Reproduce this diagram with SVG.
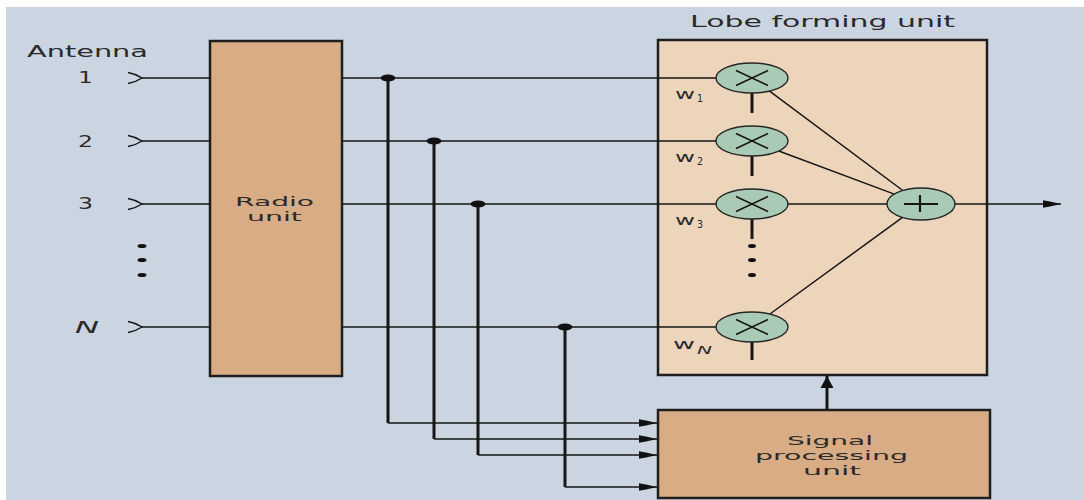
<svg xmlns="http://www.w3.org/2000/svg" width="1084" height="500" viewBox="0 0 1084 500">
<defs>
<style>
.t{font-family:"DejaVu Sans","Liberation Sans",sans-serif;fill:#2a2a2a;}
.ln{stroke:#161616;stroke-width:1.5;fill:none;}
.fd{stroke:#161616;stroke-width:3;fill:none;}
.box{stroke:#1e1e1e;stroke-width:2.5;}
.op{fill:#a9cbb6;stroke:#262626;stroke-width:1.4;}
.dot{fill:#111;}
</style>
<marker id="ah" viewBox="0 0 18 8" refX="18" refY="4" markerWidth="18" markerHeight="8" markerUnits="userSpaceOnUse" orient="auto">
<path d="M0,0.3 L7,1.5 L18,4 L7,6.5 L0,7.7 Z" fill="#111"/>
</marker>
<marker id="au" viewBox="0 0 12 14" refX="12" refY="7" markerWidth="12" markerHeight="14" markerUnits="userSpaceOnUse" orient="auto">
<path d="M0,0.5 L12,7 L0,13.5 Z" fill="#111"/>
</marker>
</defs>
<rect x="0" y="0" width="1084" height="500" fill="#ffffff"/>
<rect x="6" y="7" width="1078" height="493" fill="#cbd5e1"/>

<g id="antennas">
<text class="t" x="27" y="57" font-size="16" textLength="121" lengthAdjust="spacingAndGlyphs">Antenna</text>
<text class="t" x="78" y="83" font-size="16" textLength="15" lengthAdjust="spacingAndGlyphs">1</text>
<text class="t" x="78" y="147" font-size="16" textLength="15" lengthAdjust="spacingAndGlyphs">2</text>
<text class="t" x="78" y="209" font-size="16" textLength="15" lengthAdjust="spacingAndGlyphs">3</text>
<text class="t" x="75" y="333" font-size="16" font-style="italic" textLength="24" lengthAdjust="spacingAndGlyphs">N</text>
<path class="ln" stroke-width="1.8" d="M128,72.5 Q136,74 142,78 Q136,82 128,83.5 M128,135.5 Q136,137 142,141 Q136,145 128,146.5 M128,198.5 Q136,200 142,204 Q136,208 128,209.5 M128,321.5 Q136,323 142,327 Q136,331 128,332.5"/>
<ellipse class="dot" cx="142" cy="246" rx="4.5" ry="2"/>
<ellipse class="dot" cx="142" cy="260" rx="4.5" ry="2"/>
<ellipse class="dot" cx="142" cy="275" rx="4.5" ry="2"/>
</g>

<g id="radio-unit">
<rect class="box" x="210" y="41" width="132" height="335" fill="#d8ac85"/>
<text class="t" x="235" y="206" font-size="13" textLength="79" lengthAdjust="spacingAndGlyphs">Radio</text>
<text class="t" x="247" y="221" font-size="13" textLength="55" lengthAdjust="spacingAndGlyphs">unit</text>
</g>

<g id="lobe-forming-unit">
<text class="t" x="690" y="27" font-size="15" textLength="265" lengthAdjust="spacingAndGlyphs">Lobe forming unit</text>
<rect class="box" x="658" y="40" width="329" height="335" fill="#edd5bb"/>
</g>

<g id="signal-processing-unit">
<rect class="box" x="658" y="410" width="332" height="88" fill="#d8ac85"/>
<text class="t" x="787" y="445" font-size="13" textLength="86" lengthAdjust="spacingAndGlyphs">Signal</text>
<text class="t" x="755" y="460" font-size="13" textLength="153" lengthAdjust="spacingAndGlyphs">processing</text>
<text class="t" x="803" y="475" font-size="13" textLength="58" lengthAdjust="spacingAndGlyphs">unit</text>
</g>

<g id="connectors">
<path class="ln" d="M142,78 H210 M142,141 H210 M142,204 H210 M142,327 H210"/>
<path class="ln" d="M342,78 H716 M342,141 H716 M342,204 H716 M342,327 H716"/>
<path class="fd" d="M388,78 V423 M434,141 V439 M478,204 V455 M565,327 V487"/>
<path class="ln" d="M388,423 H657" marker-end="url(#ah)"/>
<path class="ln" d="M434,439 H657" marker-end="url(#ah)"/>
<path class="ln" d="M478,455 H657" marker-end="url(#ah)"/>
<path class="ln" d="M565,487 H657" marker-end="url(#ah)"/>
<ellipse class="dot" cx="388" cy="78" rx="7.5" ry="3.5"/>
<ellipse class="dot" cx="434" cy="141" rx="7.5" ry="3.5"/>
<ellipse class="dot" cx="478" cy="204" rx="7.5" ry="3.5"/>
<ellipse class="dot" cx="565" cy="327" rx="7.5" ry="3.5"/>
<path class="fd" d="M752,93 V113 M752,156 V176 M752,219 V239 M752,342 V360" stroke-width="2.5"/>
<path class="ln" d="M769.6,91.1 L902.8,190.5 M778.8,151 L894.3,194.1 M788,204 H887 M769.9,314 L902.5,217.4"/>
<path class="ln" d="M955,204 H1061" marker-end="url(#ah)"/>
<path class="fd" d="M827,410 V376" marker-end="url(#au)"/>
</g>

<g id="mult-1">
<ellipse class="op" cx="752" cy="78" rx="36" ry="15"/>
<path class="ln" d="M736,70.5 L768,85.5 M736,85.5 L768,70.5" stroke-width="1.3"/>
<text class="t" x="675" y="99" font-size="14" textLength="20" lengthAdjust="spacingAndGlyphs">w</text>
<text class="t" x="697" y="102" font-size="10" textLength="6" lengthAdjust="spacingAndGlyphs">1</text>
</g>
<g id="mult-2">
<ellipse class="op" cx="752" cy="141" rx="36" ry="15"/>
<path class="ln" d="M736,133.5 L768,148.5 M736,148.5 L768,133.5" stroke-width="1.3"/>
<text class="t" x="675" y="162" font-size="14" textLength="20" lengthAdjust="spacingAndGlyphs">w</text>
<text class="t" x="697" y="165" font-size="10" textLength="6" lengthAdjust="spacingAndGlyphs">2</text>
</g>
<g id="mult-3">
<ellipse class="op" cx="752" cy="204" rx="36" ry="15"/>
<path class="ln" d="M736,196.5 L768,211.5 M736,211.5 L768,196.5" stroke-width="1.3"/>
<text class="t" x="675" y="225" font-size="14" textLength="20" lengthAdjust="spacingAndGlyphs">w</text>
<text class="t" x="697" y="228" font-size="10" textLength="6" lengthAdjust="spacingAndGlyphs">3</text>
</g>
<g id="mult-dots">
<ellipse class="dot" cx="752" cy="246" rx="4" ry="2"/>
<ellipse class="dot" cx="752" cy="260" rx="4" ry="2"/>
<ellipse class="dot" cx="752" cy="275" rx="4" ry="2"/>
</g>
<g id="mult-N">
<ellipse class="op" cx="752" cy="327" rx="36" ry="15"/>
<path class="ln" d="M736,319.5 L768,334.5 M736,334.5 L768,319.5" stroke-width="1.3"/>
<text class="t" x="673" y="349" font-size="14" textLength="22" lengthAdjust="spacingAndGlyphs">w</text>
<text class="t" x="697" y="354" font-size="10" font-style="italic" textLength="15" lengthAdjust="spacingAndGlyphs">N</text>
</g>
<g id="summer">
<ellipse class="op" cx="921" cy="204" rx="34" ry="16"/>
<path d="M904,204 H938 M920,195 V212" stroke="#161616" stroke-width="2.2" fill="none"/>
</g>
</svg>
